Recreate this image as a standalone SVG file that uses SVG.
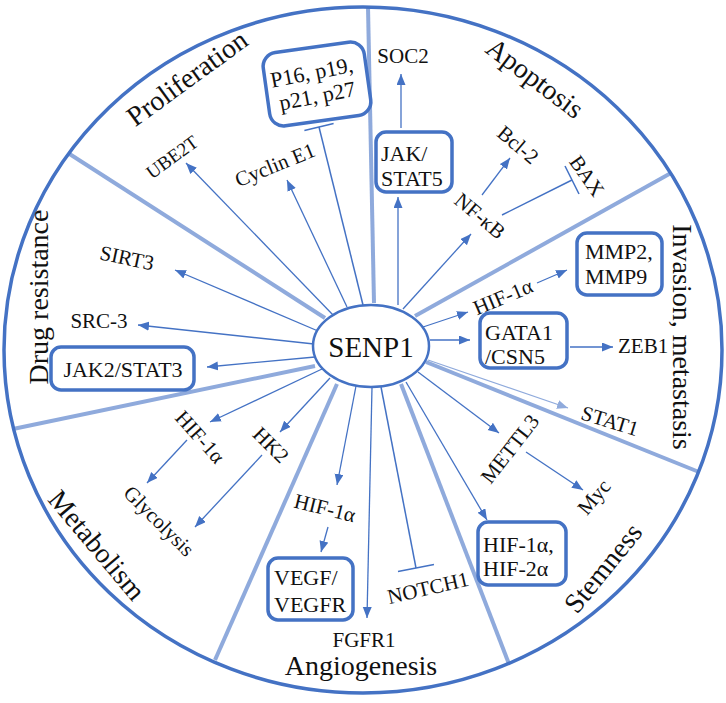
<svg xmlns="http://www.w3.org/2000/svg" width="726" height="703" viewBox="0 0 726 703">
<defs>
<marker id="ah" markerUnits="userSpaceOnUse" markerWidth="12" markerHeight="10" refX="11" refY="4.5" orient="auto"><path d="M0,0 L11,4.5 L0,9 z" fill="#4472C4"/></marker>
<marker id="ahl" markerUnits="userSpaceOnUse" markerWidth="12" markerHeight="10" refX="11" refY="4.5" orient="auto"><path d="M0,0 L11,4.5 L0,9 z" fill="#8FAADC"/></marker>
<style>
text{font-family:"Liberation Serif","Times New Roman",serif;fill:#111}
.cat{font-size:28px}
.lbl{font-size:21px}
.bx{font-size:22px}
.box{fill:#fff;stroke:#4472C4;stroke-width:3.5}
.div{stroke:#8FAADC;stroke-width:4;fill:none}
.ar{stroke:#4472C4;stroke-width:1.3;fill:none;marker-end:url(#ah)}
.arl{stroke:#8FAADC;stroke-width:1.3;fill:none;marker-end:url(#ahl)}
.inh{stroke:#4472C4;stroke-width:1.5;fill:none}
.c{dominant-baseline:central;text-anchor:middle}
</style>
</defs>
<rect width="726" height="703" fill="#fff"/>
<g id="dividers">
<line class="div" x1="374" y1="303" x2="368" y2="7"/>
<line class="div" x1="325" y1="318" x2="68" y2="153"/>
<line class="div" x1="315" y1="366" x2="13" y2="429"/>
<line class="div" x1="337" y1="384" x2="215" y2="660"/>
<line class="div" x1="401" y1="384" x2="509" y2="664"/>
<line class="div" x1="426" y1="362" x2="699" y2="472"/>
<line class="div" x1="415" y1="316" x2="671" y2="173"/>
</g>
<ellipse id="outer" cx="363" cy="350" rx="359" ry="343" fill="none" stroke="#4472C4" stroke-width="3.5"/>
<g id="connectors">
<line class="ar" x1="334" y1="316" x2="186" y2="163"/>
<line class="ar" x1="347" y1="307" x2="287" y2="180"/>
<line class="ar" x1="318" y1="331" x2="175" y2="270"/>
<line class="ar" x1="314" y1="344" x2="138" y2="325"/>
<line class="ar" x1="315" y1="357" x2="207" y2="367"/>
<line class="ar" x1="322" y1="369" x2="210" y2="422"/>
<line class="ar" x1="330" y1="378" x2="280" y2="432"/>
<line class="ar" x1="187" y1="440" x2="147" y2="483"/>
<line class="ar" x1="262" y1="455" x2="195" y2="527"/>
<line class="ar" x1="356" y1="386" x2="337" y2="485"/>
<line class="ar" x1="328" y1="527" x2="321" y2="552"/>
<line class="ar" x1="372" y1="387" x2="367" y2="618"/>
<line class="inh" x1="381" y1="387" x2="416" y2="568"/>
<line class="inh" x1="398" y1="571.5" x2="434" y2="564.5"/>
<line class="ar" x1="406" y1="382" x2="487" y2="520"/>
<line class="ar" x1="418" y1="372" x2="499" y2="433"/>
<line class="ar" x1="526" y1="452" x2="583" y2="490"/>
<line class="arl" x1="428" y1="360" x2="568" y2="408"/>
<line class="ar" x1="430" y1="340" x2="470" y2="340"/>
<line class="ar" x1="570" y1="347" x2="613" y2="347"/>
<line class="ar" x1="423" y1="327" x2="468" y2="312"/>
<line class="ar" x1="537" y1="283" x2="567" y2="270"/>
<line class="ar" x1="403" y1="309" x2="471" y2="234"/>
<line class="ar" x1="482" y1="195" x2="510" y2="158"/>
<line class="inh" x1="502" y1="215" x2="572" y2="180"/>
<line class="inh" x1="565" y1="166" x2="579" y2="194"/>
<line class="ar" x1="398" y1="305" x2="398" y2="197"/>
<line class="ar" x1="401" y1="128" x2="401" y2="74"/>
<line class="inh" x1="363" y1="305" x2="319" y2="127"/>
<line class="inh" x1="304.4" y1="130.5" x2="333.6" y2="123.5"/>
</g>
<g id="senp1">
<ellipse cx="371" cy="346" rx="58" ry="41" fill="#fff" stroke="#4472C4" stroke-width="2.5"/>
<text x="371" y="357" font-size="29" text-anchor="middle">SENP1</text>
</g>
<g id="categories">
<text class="cat c" transform="translate(187,78) rotate(-36)">Proliferation</text>
<text class="cat c" transform="translate(535,78) rotate(37)">Apoptosis</text>
<text class="cat c" transform="translate(682,337) rotate(90)">Invasion, metastasis</text>
<text class="cat c" transform="translate(603,568) rotate(-51)">Stemness</text>
<text class="cat" x="361" y="675" text-anchor="middle">Angiogenesis</text>
<text class="cat c" transform="translate(97,545) rotate(50)">Metabolism</text>
<text class="cat c" transform="translate(38,297) rotate(-90)">Drug resistance</text>
</g>
<g id="p16box" transform="translate(317,84) rotate(-8)">
<rect class="box" x="-51" y="-37" width="102" height="74" rx="14"/>
<text class="bx" x="-3" y="-5" text-anchor="middle" transform="rotate(-3)">P16, p19,</text>
<text class="bx" x="-2" y="19" text-anchor="middle" transform="rotate(-3)">p21, p27</text>
</g>
<g id="ube2t"><text class="c" font-size="19" transform="translate(172,157) rotate(-36)">UBE2T</text></g>
<g id="cyclin"><text class="lbl c" transform="translate(275,165) rotate(-22)">Cyclin E1</text></g>
<g id="sirt3"><text class="lbl c" transform="translate(127,258) rotate(12)">SIRT3</text></g>
<g id="src3"><text class="lbl" x="99" y="328" text-anchor="middle">SRC-3</text></g>
<g id="jak2stat3">
<rect class="box" x="51" y="347" width="143" height="43" rx="10"/>
<text class="bx" x="123" y="377" text-anchor="middle">JAK2/STAT3</text>
</g>
<g id="hif-met"><text class="lbl c" transform="translate(200,437) rotate(48)">HIF-1α</text></g>
<g id="hk2"><text class="lbl c" transform="translate(271,445) rotate(45)">HK2</text></g>
<g id="glyc"><text class="lbl c" transform="translate(159,521) rotate(45)">Glycolysis</text></g>
<g id="hif-ang"><text class="lbl c" transform="translate(325,508) rotate(14)">HIF-1α</text></g>
<g id="vegf">
<rect class="box" x="268" y="558" width="85" height="62" rx="10"/>
<text class="bx" x="274" y="585">VEGF/</text>
<text class="bx" x="274" y="612">VEGFR</text>
</g>
<g id="fgfr1"><text class="lbl" x="364" y="647" text-anchor="middle">FGFR1</text></g>
<g id="notch1"><text class="lbl c" transform="translate(428,588) rotate(-13)">NOTCH1</text></g>
<g id="hifbox">
<rect class="box" x="478" y="522" width="88" height="63" rx="10"/>
<text class="bx" x="483" y="552">HIF-1α,</text>
<text class="bx" x="483" y="576">HIF-2α</text>
</g>
<g id="mettl3"><text class="lbl c" transform="translate(510,449) rotate(-52)">METTL3</text></g>
<g id="myc"><text class="lbl c" transform="translate(594,497) rotate(-50)">Myc</text></g>
<g id="stat1"><text class="lbl c" transform="translate(610,421) rotate(17)">STAT1</text></g>
<g id="gata1">
<rect class="box" x="480" y="313" width="87" height="55" rx="10"/>
<text class="bx" x="485" y="340">GATA1</text>
<text class="bx" x="485" y="364">/CSN5</text>
</g>
<g id="zeb1"><text class="lbl" x="618" y="353">ZEB1</text></g>
<g id="hif-inv"><text class="lbl c" transform="translate(503,297) rotate(-23)">HIF-1α</text></g>
<g id="mmp">
<rect class="box" x="577" y="233" width="85" height="62" rx="10"/>
<text class="bx" x="585" y="259">MMP2,</text>
<text class="bx" x="585" y="284">MMP9</text>
</g>
<g id="nfkb"><text class="lbl c" transform="translate(480,216) rotate(40)">NF-κB</text></g>
<g id="bcl2"><text class="lbl c" transform="translate(518,145) rotate(40)">Bcl-2</text></g>
<g id="bax"><text class="lbl c" transform="translate(587,176) rotate(55)">BAX</text></g>
<g id="jakstat5">
<rect class="box" x="376" y="132" width="76" height="60" rx="10"/>
<text class="bx" x="381" y="161">JAK/</text>
<text class="bx" x="381" y="186">STAT5</text>
</g>
<g id="soc2"><text class="lbl" x="403" y="63" text-anchor="middle">SOC2</text></g>
</svg>
